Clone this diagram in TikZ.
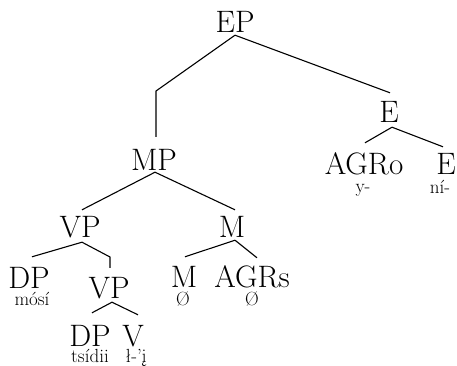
\documentclass[tikz,border=0pt]{standalone}
\usetikzlibrary{calc}
\begin{document}
\begin{tikzpicture}[x=1pt,y=-1pt,
  cat/.style={font=\fontsize{31}{31}\selectfont, inner sep=0pt, text height=22pt, text depth=0pt, anchor=base},
  gloss/.style={font=\fontsize{19}{19}\selectfont, inner sep=0pt, text height=11pt, text depth=3pt, anchor=base},
  branch/.style={line width=1.1pt, line join=miter}]
\useasboundingbox (0,0) rectangle (457,366);
% categories
\node[cat] (EP) at (235,33) {EP};
\node[cat] (MP) at (154,170) {MP};
\node[cat] (Etop) at (389,123) {E};
\node[cat] (AGRo) at (364,175) {AGRo};
\node[gloss] (yg) at (363,192) {y-};
\node[cat] (Elow) at (446,175) {E};
\node[gloss] (nig) at (440,193) {ní-};
\node[cat] (VP) at (80,237) {VP};
\node[cat] (M) at (232,237) {M};
\node[cat] (DPa) at (29,288) {DP};
\node[gloss] (mosi) at (32,305) {mósí};
\node[cat] (VPb) at (109,298) {VP};
\node[cat] (Mlow) at (184,287) {M};
\node[gloss] (zm) at (183,305) {Ø};
\node[cat] (AGRs) at (252,287) {AGRs};
\node[gloss] (za) at (252,305) {Ø};
\node[cat] (DPb) at (90,346) {DP};
\node[gloss] (tsidii) at (90,362) {tsídii};
\node[cat] (V) at (133,346) {V};
\node[gloss] (vg) at (136,362) {ł-'į};
% bend points
\coordinate (bendMP) at (156,91);
\coordinate (bendVP) at (110,257);
% branches
\draw[branch] ([yshift=-2pt]EP.south) -- (bendMP) -- ([xshift=2pt,yshift=11pt]MP.north);
\draw[branch] ([yshift=-2pt]EP.south) -- ([xshift=1pt,yshift=8pt]Etop.north);
\draw[branch] ([xshift=3pt,yshift=-4pt]Etop.south) -- ([xshift=1pt,yshift=10pt]AGRo.north);
\draw[branch] ([xshift=3pt,yshift=-4pt]Etop.south) -- ([xshift=-3pt,yshift=6pt]Elow.north);
\draw[branch] ([xshift=1pt,yshift=-2pt]MP.south) -- ([xshift=2pt,yshift=5pt]VP.north);
\draw[branch] ([xshift=1pt,yshift=-2pt]MP.south) -- ([xshift=3pt,yshift=5pt]M.north);
\draw[branch] ([xshift=2pt,yshift=-5pt]VP.south) -- ([xshift=3pt,yshift=9pt]DPa.north);
\draw[branch] ([xshift=2pt,yshift=-5pt]VP.south) -- (bendVP) -- ([xshift=1pt,yshift=8pt]VPb.north);
\draw[branch] ([xshift=3pt,yshift=-3pt]M.south) -- ([xshift=1pt,yshift=8pt]Mlow.north);
\draw[branch] ([xshift=3pt,yshift=-3pt]M.south) -- ([xshift=5pt,yshift=7pt]AGRs.north);
\draw[branch] ([xshift=3pt,yshift=-4pt]VPb.south) -- ([xshift=2pt,yshift=11pt]DPb.north);
\draw[branch] ([xshift=3pt,yshift=-4pt]VPb.south) -- ([xshift=5pt,yshift=9pt]V.north);
\end{tikzpicture}
\end{document}
